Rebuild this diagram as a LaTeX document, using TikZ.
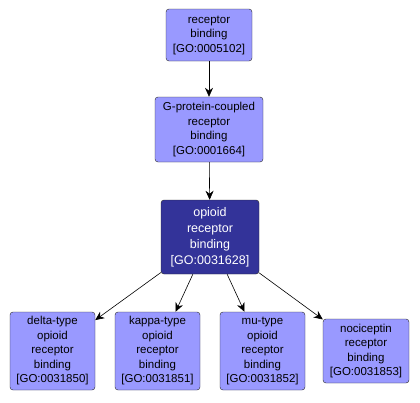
\documentclass[tikz,border=0pt]{standalone}
\usepackage{fontspec}
\setmainfont{Liberation Sans}
\usetikzlibrary{arrows.meta,positioning}
\definecolor{termfill}{RGB}{153,153,255}
\definecolor{focusfill}{RGB}{51,51,153}
\definecolor{termline}{RGB}{40,40,40}
\tikzset{
  term/.style={draw=termline, fill=termfill, rounded corners=3pt, align=center, inner sep=0pt,
    font=\fontsize{11.5}{14.5}\selectfont, minimum width=#1},
  focus/.style={term=#1, fill=focusfill, text=white, font=\fontsize{12.5}{16}\selectfont},
  isa/.style={-{Stealth[length=9pt,width=8pt]}, semithick, black},
}

\begin{document}
\begin{tikzpicture}[x=1pt,y=-1pt]
  \useasboundingbox (0,0) rectangle (420,402);
  \node[term=86, minimum height=52] (recb) at (209,35) {receptor\\binding\\{[GO:0005102]}};
  \node[term=108, minimum height=65] (gpcr) at (209,129.5) {G-protein-coupled\\receptor\\binding\\{[GO:0001664]}};
  \node[focus=98, minimum height=74] (opioid) at (210,237) {opioid\\receptor\\binding\\{[GO:0031628]}};
  \node[term=85, minimum height=78] (delta) at (52.5,351) {delta-type\\opioid\\receptor\\binding\\{[GO:0031850]}};
  \node[term=85, minimum height=78] (kappa) at (157.5,351) {kappa-type\\opioid\\receptor\\binding\\{[GO:0031851]}};
  \node[term=85, minimum height=78] (mu) at (262.5,351) {mu-type\\opioid\\receptor\\binding\\{[GO:0031852]}};
  \node[term=86, minimum height=64] (noci) at (366,351) {nociceptin\\receptor\\binding\\{[GO:0031853]}};

  \draw[isa] (recb) -- (gpcr);
  \draw[isa] (gpcr) -- (opioid);
  \foreach \t in {delta,kappa,mu,noci}
    \draw[isa] (opioid) -- (\t);
\end{tikzpicture}
\end{document}
